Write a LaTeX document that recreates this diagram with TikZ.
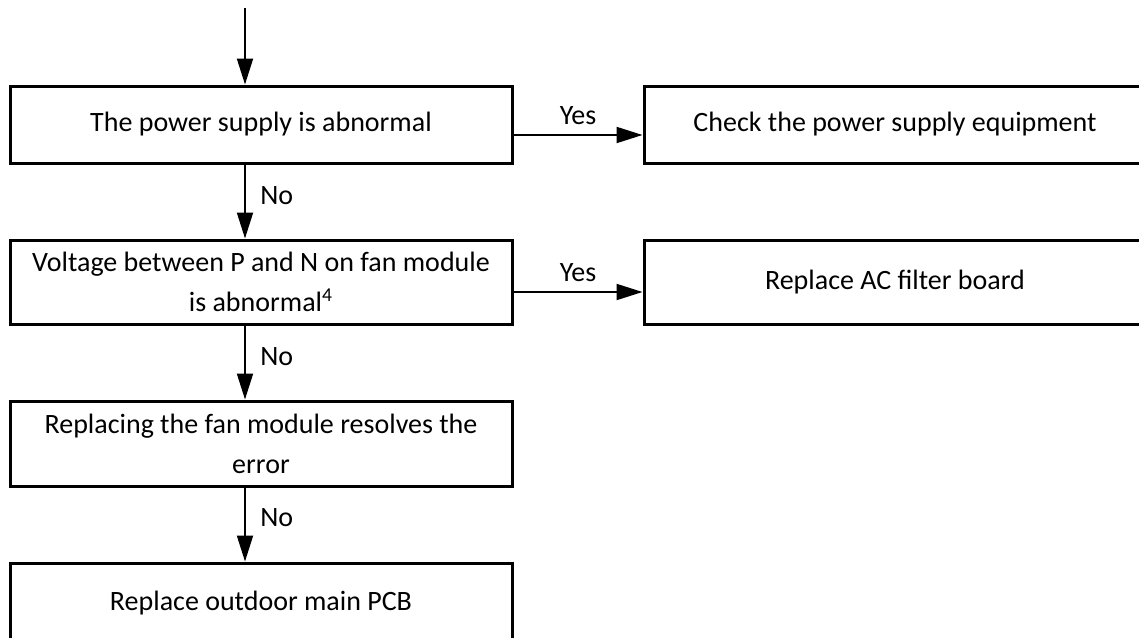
\documentclass[tikz,border=0pt]{standalone}
\usepackage{fontspec}
\setmainfont{Carlito}
\usetikzlibrary{arrows.meta}

\tikzset{
  stepbox/.style={draw, line width=1.5pt, minimum width=251pt, align=center,
    inner sep=0pt, font=\fontsize{14}{20}\selectfont},
  arr/.style={line width=1pt, -{Triangle[length=13pt,width=8pt]}},
  lbl/.style={font=\fontsize{14}{16}\selectfont, inner sep=0pt}
}

\begin{document}
\begin{tikzpicture}[x=0.5pt, y=-0.5pt]
  \useasboundingbox (0,0) rectangle (1139,637);
  \clip (0,0) rectangle (1139,637);

  % left column
  \node[stepbox, minimum height=38.5pt] (power) at (261,124.5)
    {The power supply is abnormal};
  \node[stepbox, minimum height=42pt] (volt) at (261,282)
    {Voltage between P and N on fan module\\is abnormal\textsuperscript{4}};
  \node[stepbox, minimum height=42.5pt] (fan) at (261,443.5)
    {Replacing the fan module resolves the\\error};
  \node[stepbox, minimum height=40pt] (pcb) at (261,603)
    {Replace outdoor main PCB};

  % right column (runs past the right border)
  \node[stepbox, minimum height=38.5pt] (check) at (895,124.5)
    {Check the power supply equipment};
  \node[stepbox, minimum height=42pt] (filter) at (895,282)
    {Replace AC filter board};

  % incoming arrow
  \coordinate (start) at (245,8);
  \draw[arr] (start) -- (power.north -| start);

  % No branches
  \draw[arr] (power.south -| start) -- (volt.north -| start);
  \node[lbl, anchor=west] (no1) at (260,196) {No};
  \draw[arr] (volt.south -| start) -- (fan.north -| start);
  \node[lbl, anchor=west] (no2) at (260,357) {No};
  \draw[arr] (fan.south -| start) -- (pcb.north -| start);
  \node[lbl, anchor=west] (no3) at (260,518) {No};

  % Yes branches
  \draw[arr] (power.east |- 0,135) -- (check.west |- 0,135);
  \node[lbl] (yes1) at (578,116) {Yes};
  \draw[arr] (volt.east |- 0,292) -- (filter.west |- 0,292);
  \node[lbl] (yes2) at (578,273) {Yes};
\end{tikzpicture}
\end{document}
